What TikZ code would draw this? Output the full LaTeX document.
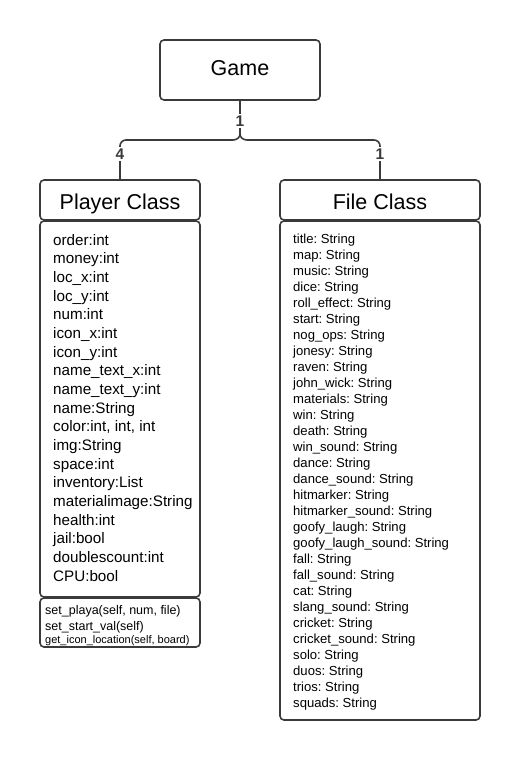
\documentclass[tikz,border=0pt]{standalone}
\usepackage{fontspec}
\setmainfont{Liberation Sans}
\frenchspacing
\definecolor{edge}{HTML}{3A3A3A}
\tikzset{
  umlbox/.style={draw=edge, line width=1.6pt, rounded corners=4pt, fill=white, inner sep=0pt},
  title/.style={font=\fontsize{21.5}{24}\selectfont, text=black, anchor=base, inner sep=0pt},
  pattr/.style={font=\fontsize{15.2}{16}\selectfont, text=black, anchor=base west, inner sep=0pt},
  fattr/.style={font=\fontsize{13.1}{14}\selectfont, text=black, anchor=base west, inner sep=0pt},
  meth/.style={font=\fontsize{12.5}{14}\selectfont, text=black, anchor=base west, inner sep=0pt},
  mult/.style={font=\fontsize{15.5}{16}\selectfont\bfseries, text=edge, fill=white, inner sep=1.5pt},
  link/.style={draw=edge, line width=1.6pt},
}
\begin{document}
\begin{tikzpicture}[x=1pt,y=-1pt]
\useasboundingbox (0,0) rectangle (520,760);
% boxes
\node[umlbox, minimum width=160, minimum height=60] (game) at (240,70) {};
\node[umlbox, minimum width=160, minimum height=40] (player) at (120,200) {};
\node[umlbox, minimum width=160, minimum height=376] (pattrs) at (120,409) {};
\node[umlbox, minimum width=160, minimum height=49] (pmeth) at (120,622.5) {};
\node[umlbox, minimum width=200, minimum height=40] (file) at (380,200) {};
\node[umlbox, minimum width=200, minimum height=499] (fattrs) at (380,470.5) {};
% titles
\node[title] (gamet) at (240,75.5) {Game};
\node[title] (playert) at (120,209.5) {Player Class};
\node[title] (filet) at (380,209.5) {File Class};
% brace connector
\coordinate (tip) at (240,134);
\draw[link] (game.south) -- (tip);
\draw[link] (player.north) -- (120,146) to[out=90,in=180] (126,140) -- (233,140)
  to[out=0,in=-90] (tip) to[out=-90,in=180] (247,140) -- (374,140)
  to[out=0,in=90] (380,146) -- (file.north);
\node[mult] (m1) at (240,121) {\textbf{1}};
\node[mult] (m4) at (120,154) {\textbf{4}};
\node[mult] (m2) at (380,154) {\textbf{1}};
% player attributes
\foreach \t [count=\i from 0] in {order:int, money:int, loc\_x:int, loc\_y:int, num:int,
  icon\_x:int, icon\_y:int, name\_text\_x:int, name\_text\_y:int, name:String,
  {color:int, int, int}, img:String, space:int, inventory:List, materialimage:String,
  health:int, jail:bool, doublescount:int, CPU:bool}
  \node[pattr] (pa\i) at (53,245+18.67*\i) {\t};
% player methods
\node[meth] (pm1) at (45,614) {set\_playa(self, num, file)};
\node[meth] (pm2) at (45,630) {set\_start\_val(self)};
\node[meth, font=\fontsize{11}{12}\selectfont] (pm3) at (45,643.5) {get\_icon\_location(self, board)};
% file attributes
\foreach \t [count=\i from 0] in {title, map, music, dice, roll\_effect, start, nog\_ops,
  jonesy, raven, john\_wick, materials, win, death, win\_sound, dance, dance\_sound,
  hitmarker, hitmarker\_sound, goofy\_laugh, goofy\_laugh\_sound, fall, fall\_sound,
  cat, slang\_sound, cricket, cricket\_sound, solo, duos, trios, squads}
  \node[fattr] (fa\i) at (293,243+16.0*\i) {\t: String};
\end{tikzpicture}
\end{document}
